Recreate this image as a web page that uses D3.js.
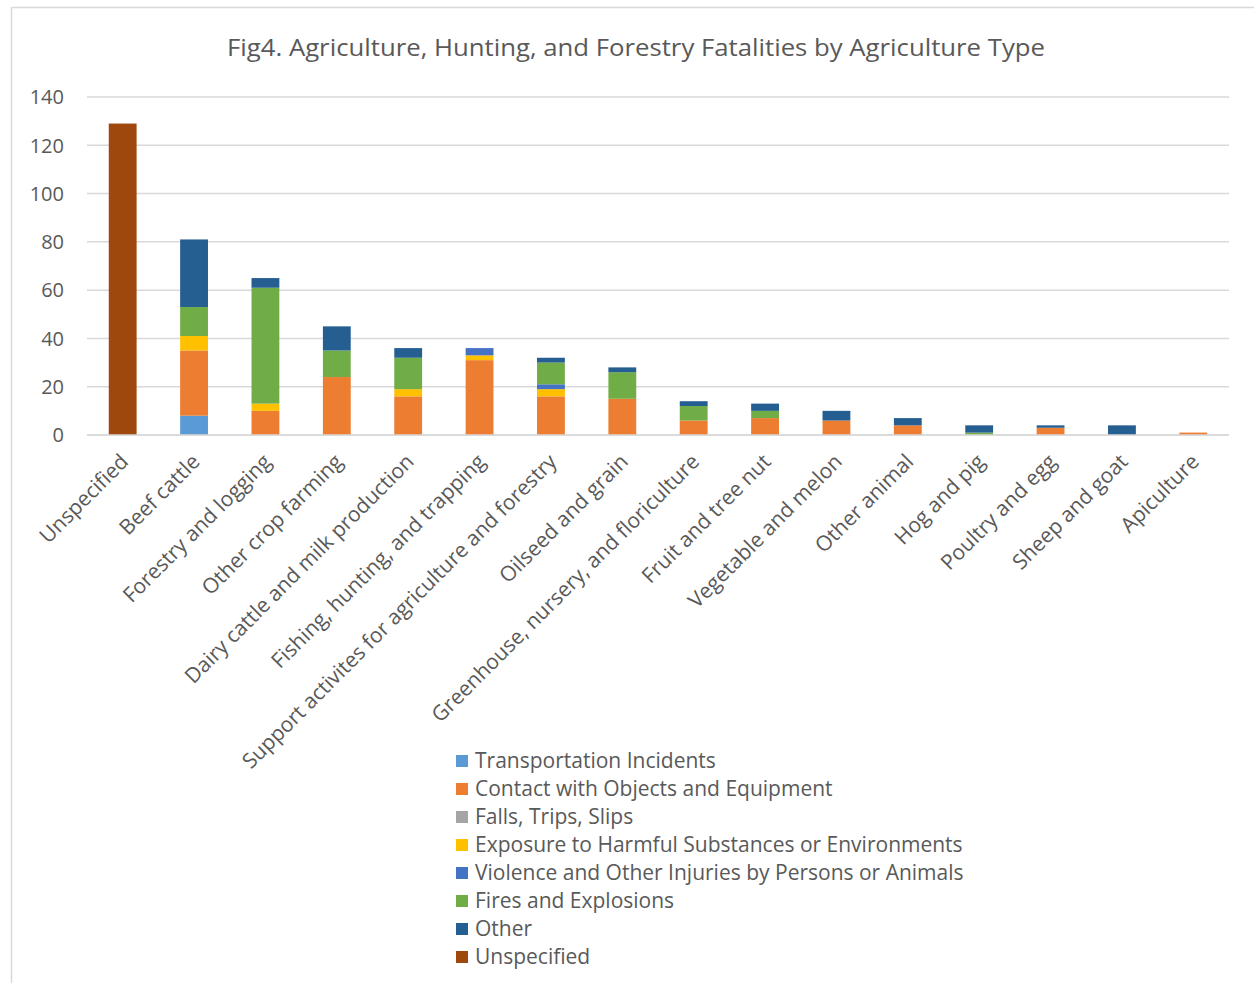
<!DOCTYPE html>
<html>
<head>
<meta charset="utf-8">
<script src="https://cdn.jsdelivr.net/npm/d3@7"></script>
<style>
  html, body { margin: 0; padding: 0; background: #fff; }
  svg text { font-family: "Open Sans", Lato, sans-serif; fill: #595959; }
</style>
</head>
<body>
<svg id="chart" width="1254" height="983"></svg>
<script>
// Agriculture types (x categories)
const categories = [
  "Unspecified", "Beef cattle", "Forestry and logging", "Other crop farming",
  "Dairy cattle and milk production", "Fishing, hunting, and trapping",
  "Support activites for agriculture and forestry", "Oilseed and grain",
  "Greenhouse, nursery, and floriculture", "Fruit and tree nut",
  "Vegetable and melon", "Other animal", "Hog and pig", "Poultry and egg",
  "Sheep and goat", "Apiculture"
];

// Event types (stack order, bottom to top)
const seriesNames = [
  "Transportation Incidents",
  "Contact with Objects and Equipment",
  "Falls, Trips, Slips",
  "Exposure to Harmful Substances or Environments",
  "Violence and Other Injuries by Persons or Animals",
  "Fires and Explosions",
  "Other",
  "Unspecified"
];

// Fatalities per event type, one value per category
const transportation = [0, 8, 0, 0, 0, 0, 0, 0, 0, 0, 0, 0, 0, 0, 0, 0];
const contact        = [0, 27, 10, 24, 16, 31, 16, 15, 6, 7, 6, 4, 0, 3, 0, 1];
const falls          = [0, 0, 0, 0, 0, 0, 0, 0, 0, 0, 0, 0, 0, 0, 0, 0];
const exposure       = [0, 6, 3, 0, 3, 2, 3, 0, 0, 0, 0, 0, 0, 0, 0, 0];
const violence       = [0, 0, 0, 0, 0, 3, 2, 0, 0, 0, 0, 0, 0, 0, 0, 0];
const fires          = [0, 12, 48, 11, 13, 0, 9, 11, 6, 3, 0, 0, 1, 0, 0, 0];
const other          = [0, 28, 4, 10, 4, 0, 2, 2, 2, 3, 4, 3, 3, 1, 4, 0];
const unspecified    = [129, 0, 0, 0, 0, 0, 0, 0, 0, 0, 0, 0, 0, 0, 0, 0];

const yTicks = [0, 20, 40, 60, 80, 100, 120, 140];
const colors = ["#5B9BD5", "#ED7D31", "#A5A5A5", "#FFC000", "#4472C4", "#70AD47", "#255E91", "#9E480E"];

const seriesValues = [transportation, contact, falls, exposure, violence, fires, other, unspecified];

// Build a row-per-category table for d3.stack
const table = categories.map((c, i) => {
  const row = { category: c };
  seriesNames.forEach((s, k) => { row[s] = seriesValues[k][i]; });
  return row;
});

const svg = d3.select("#chart");

// Chart frame
svg.append("line").attr("x1", 11.5).attr("x2", 11.5).attr("y1", 7.5).attr("y2", 983)
  .attr("stroke", "#d9d9d9").attr("stroke-width", 1.5);
svg.append("line").attr("x1", 11.5).attr("x2", 1254).attr("y1", 7.5).attr("y2", 7.5)
  .attr("stroke", "#d9d9d9").attr("stroke-width", 1.5);

// Title
svg.append("text")
  .attr("x", 636).attr("y", 56)
  .attr("text-anchor", "middle")
  .style("font-size", "24px")
  .attr("textLength", 818).attr("lengthAdjust", "spacingAndGlyphs")
  .text("Fig4. Agriculture, Hunting, and Forestry Fatalities by Agriculture Type");

const plot = { left: 87, right: 1229, top: 97, bottom: 435 };

const x = d3.scaleBand()
  .domain(categories)
  .range([plot.left, plot.right])
  .paddingInner(0.61)
  .paddingOuter(0.305);

const y = d3.scaleLinear()
  .domain([0, 140])
  .range([plot.bottom, plot.top]);

// Gridlines
svg.append("g")
  .selectAll("line")
  .data(yTicks)
  .join("line")
  .attr("x1", plot.left).attr("x2", plot.right)
  .attr("y1", d => y(d)).attr("y2", d => y(d))
  .attr("stroke", "#d9d9d9").attr("stroke-width", 1.5);

// Y axis labels
const yAxis = d3.axisLeft(y).tickValues(yTicks).tickSize(0).tickPadding(0);
const gy = svg.append("g").attr("transform", "translate(64,0)").call(yAxis);
gy.select(".domain").remove();
gy.selectAll("text")
  .style("font-size", "20px")
  .style("font-family", "'Open Sans', Lato, sans-serif")
  .attr("fill", "#595959")
  .attr("dy", "0.34em");

// Stacked bars
const stack = d3.stack().keys(seriesNames);
const stacked = stack(table);

svg.append("g")
  .selectAll("g")
  .data(stacked)
  .join("g")
  .attr("fill", (d, i) => colors[i])
  .selectAll("rect")
  .data(d => d.filter(p => p[1] - p[0] > 0))
  .join("rect")
  .attr("x", d => x(d.data.category))
  .attr("width", x.bandwidth())
  .attr("y", d => y(d[1]))
  .attr("height", d => y(d[0]) - y(d[1]));

// X axis line and rotated category labels
const xAxis = d3.axisBottom(x).tickSize(0).tickPadding(0);
const gx = svg.append("g").attr("transform", `translate(0,${plot.bottom})`).call(xAxis);
gx.select(".domain").attr("stroke", "#d9d9d9").attr("stroke-width", 1.5)
  .attr("d", `M${plot.left},0H${plot.right}`);
gx.selectAll("text")
  .style("font-size", "21px")
  .style("font-family", "'Open Sans', Lato, sans-serif")
  .attr("fill", "#595959")
  .attr("text-anchor", "end")
  .attr("dy", null)
  .attr("y", 0)
  .attr("transform", "translate(7,28) rotate(-45)");

// Legend
const legend = svg.append("g").attr("transform", "translate(456,761)");
const items = legend.selectAll("g")
  .data(seriesNames)
  .join("g")
  .attr("transform", (d, i) => `translate(0,${i * 28})`);
items.append("rect")
  .attr("x", 0).attr("y", -6).attr("width", 12).attr("height", 12)
  .attr("fill", (d, i) => colors[i]);
items.append("text")
  .attr("x", 19).attr("y", 0).attr("dy", "0.35em")
  .style("font-size", "21px")
  .text(d => d);
</script>
</body>
</html>
